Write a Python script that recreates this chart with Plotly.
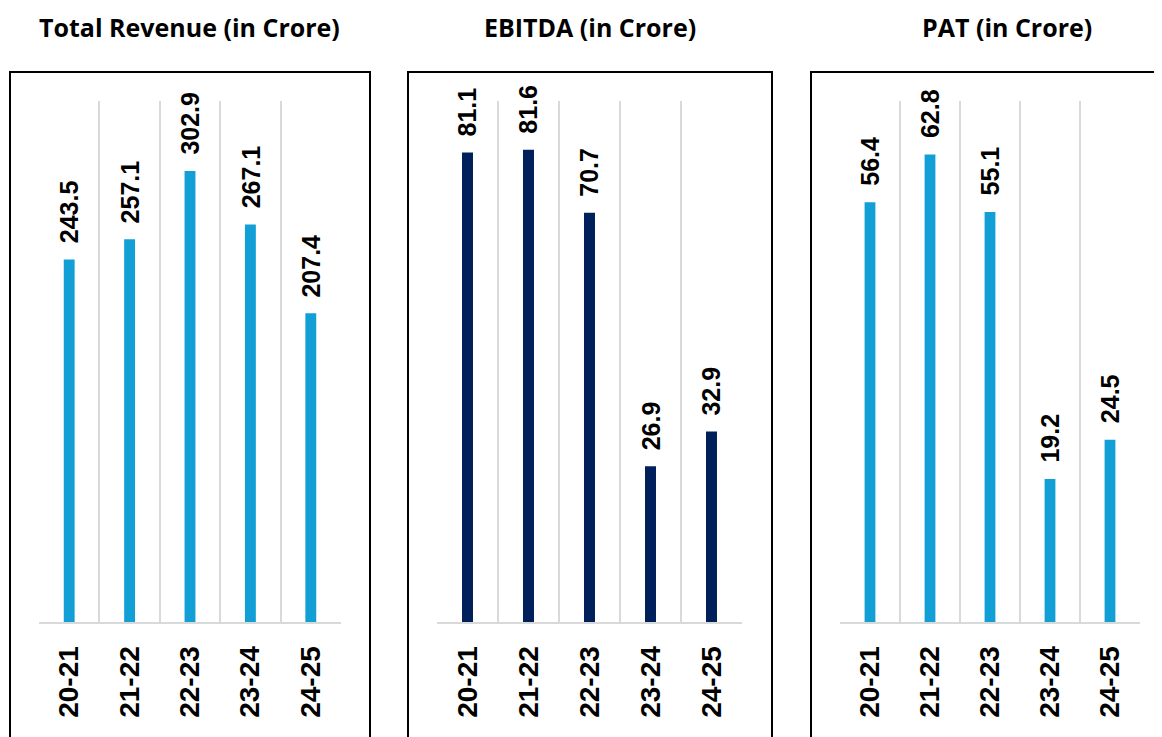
import plotly.graph_objects as go

W, H = 1162, 737
OFF = 8  # page body margin offset
years = ["20-21", "21-22", "22-23", "23-24", "24-25"]
revenue = [243.5, 257.1, 302.9, 267.1, 207.4]
ebitda = [81.1, 81.6, 70.7, 26.9, 32.9]
pat = [56.4, 62.8, 55.1, 19.2, 24.5]

titles = ["Total Revenue (in Crore)", "EBITDA (in Crore)", "PAT (in Crore)"]
series = [revenue, ebitda, pat]
colors = ["#119FD6", "#00205B", "#119FD6"]
yranges = [350, 90, 70]
plot_x = [(39, 341), (437, 742), (840, 1140)]
boxes = [(10, 370), (408, 772), (811, 1185)]
title_x = [189, 590, 1007]

y_top, y_bot = 101, 622


def px(v):
    return (v - OFF) / W


def py(v):
    return 1 - (v - OFF) / H


fig = go.Figure()
layout = dict(
    width=W, height=H, margin=dict(l=0, r=0, t=0, b=0),
    paper_bgcolor="white", plot_bgcolor="white", showlegend=False,
    bargap=0.82,
)
shapes = []
annotations = []
for i in range(3):
    sfx = "" if i == 0 else str(i + 1)
    fig.add_trace(go.Bar(
        x=years, y=series[i], marker_color=colors[i], marker_line_width=0,
        xaxis="x" + sfx, yaxis="y" + sfx,
    ))
    for cat, v in zip(years, series[i]):
        annotations.append(dict(
            x=cat, y=v, xref="x" + sfx, yref="y" + sfx, text=f"{v:.1f}",
            textangle=-90, showarrow=False, xanchor="center", yanchor="bottom",
            yshift=14,
            font=dict(family="Liberation Sans", size=25, color="black", weight="bold"),
        ))
    layout["xaxis" + sfx] = dict(
        domain=[px(plot_x[i][0]), px(plot_x[i][1])], anchor="y" + sfx,
        type="category", tickson="boundaries", showgrid=True,
        gridcolor="#D9D9D9", gridwidth=1.5, showline=True, linecolor="#D9D9D9",
        linewidth=2, ticks="", tickangle=-90, ticklabelstandoff=11,
        tickfont=dict(family="Liberation Sans", size=28, color="black", weight="bold"),
        fixedrange=True,
    )
    layout["yaxis" + sfx] = dict(
        domain=[py(y_bot), py(y_top)], anchor="x" + sfx,
        range=[0, yranges[i]], showgrid=False, showticklabels=False,
        zeroline=False, showline=False, fixedrange=True,
    )
    shapes.append(dict(
        type="rect", xref="paper", yref="paper",
        x0=px(boxes[i][0]), x1=px(boxes[i][1]), y0=-0.05, y1=py(72),
        line=dict(color="black", width=2), fillcolor="rgba(0,0,0,0)",
    ))
    annotations.append(dict(
        text=titles[i], xref="paper", yref="paper", x=px(title_x[i]), y=1,
        xanchor="center", yanchor="top", showarrow=False,
        font=dict(family="Open Sans", size=25, color="black", weight="bold"),
    ))

layout["shapes"] = shapes
layout["annotations"] = annotations
fig.update_layout(**layout)
fig.write_html("out.html")
